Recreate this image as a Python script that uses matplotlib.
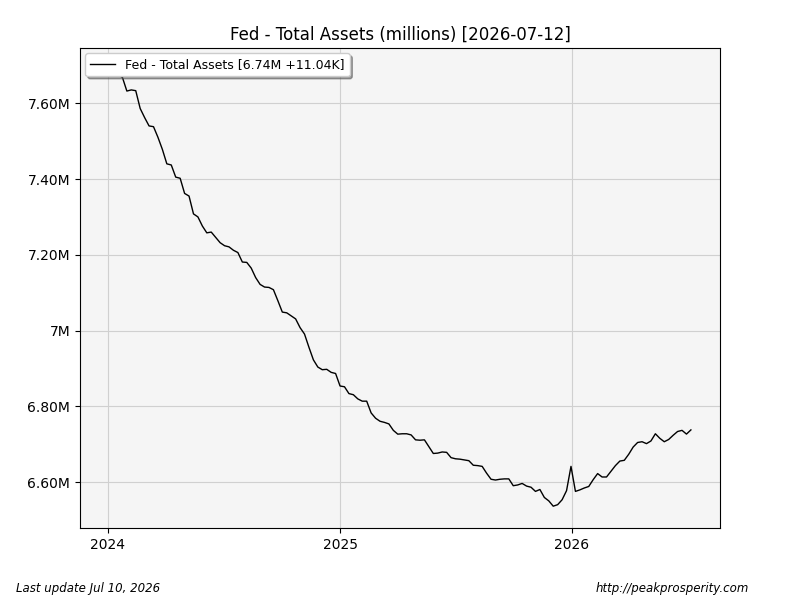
import matplotlib
matplotlib.use("Agg")
import matplotlib.pyplot as plt
import matplotlib.dates as mdates
from matplotlib.ticker import FuncFormatter
import pandas as pd

# weekly H.4.1 dates (Wednesdays)
dates = pd.date_range("2024-01-03", periods=132, freq="7D")

# total assets, trillions of dollars
assets_2024 = [
    7.688, 7.677, 7.675, 7.668, 7.632, 7.635, 7.633, 7.586, 7.562, 7.540,
    7.538, 7.510, 7.478, 7.440, 7.437, 7.405, 7.402, 7.362, 7.355, 7.308,
    7.300, 7.276, 7.258, 7.260, 7.246, 7.232, 7.224, 7.221, 7.212, 7.206,
    7.181, 7.180, 7.165, 7.140, 7.122, 7.115, 7.114, 7.108, 7.079, 7.049,
    7.047, 7.039, 7.031, 7.008, 6.991, 6.956, 6.923, 6.904, 6.897, 6.898,
    6.890, 6.887,
]
assets_2025 = [
    6.854, 6.852, 6.834, 6.831, 6.820, 6.814, 6.814, 6.783, 6.769, 6.761,
    6.758, 6.754, 6.737, 6.727, 6.728, 6.728, 6.725, 6.712, 6.711, 6.712,
    6.694, 6.676, 6.677, 6.680, 6.679, 6.665, 6.662, 6.661, 6.659, 6.657,
    6.645, 6.644, 6.642, 6.624, 6.608, 6.606, 6.608, 6.609, 6.609, 6.591,
    6.593, 6.597, 6.590, 6.587, 6.576, 6.581, 6.560, 6.551, 6.537, 6.541,
    6.554, 6.578,
]
assets_2026 = [
    6.642, 6.576, 6.580, 6.585, 6.589, 6.607, 6.623, 6.614, 6.614, 6.629,
    6.644, 6.656, 6.658, 6.674, 6.693, 6.705, 6.707, 6.702, 6.709, 6.728,
    6.716, 6.707, 6.713, 6.724, 6.734, 6.737, 6.72716, 6.7382,
]
# in millions, like the source series
values = [v * 1e6 for v in assets_2024 + assets_2025 + assets_2026]

y_ticks = [6.6e6, 6.8e6, 7.0e6, 7.2e6, 7.4e6, 7.6e6]


def millions_fmt(v, pos=None):
    m = v / 1e6
    if abs(m - round(m)) < 1e-9:
        return f"{int(round(m))}M"
    return f"{m:.2f}M"


last, prev = values[-1], values[-2]
label = f"Fed - Total Assets [{last / 1e6:.2f}M {(last - prev) / 1e3:+.2f}K]"

fig = plt.figure(figsize=(8, 6), dpi=100)
ax = fig.add_axes([0.1, 0.12, 0.8, 0.80])
ax.set_facecolor("#f5f5f5")

ax.plot(dates, values, color="black", linewidth=1.0, label=label)

ax.set_yticks(y_ticks)
ax.yaxis.set_major_formatter(FuncFormatter(millions_fmt))
ax.xaxis.set_major_locator(mdates.YearLocator())
ax.xaxis.set_major_formatter(mdates.DateFormatter("%Y"))
ax.grid(True, color="#d0d0d0", linewidth=0.8)
ax.set_axisbelow(True)

ax.set_title("Fed - Total Assets (millions) [2026-07-12]", fontsize=12)
ax.legend(loc="upper left", fontsize=9, shadow=True, fancybox=True,
          framealpha=1.0, borderaxespad=0.4)

fig.text(0.02, 0.013, "Last update Jul 10, 2026", fontsize=8.5, style="italic")
fig.text(0.936, 0.013, "http://peakprosperity.com", fontsize=8.5,
         style="italic", ha="right")

fig.savefig("out.png", dpi=100)
plt.close(fig)
